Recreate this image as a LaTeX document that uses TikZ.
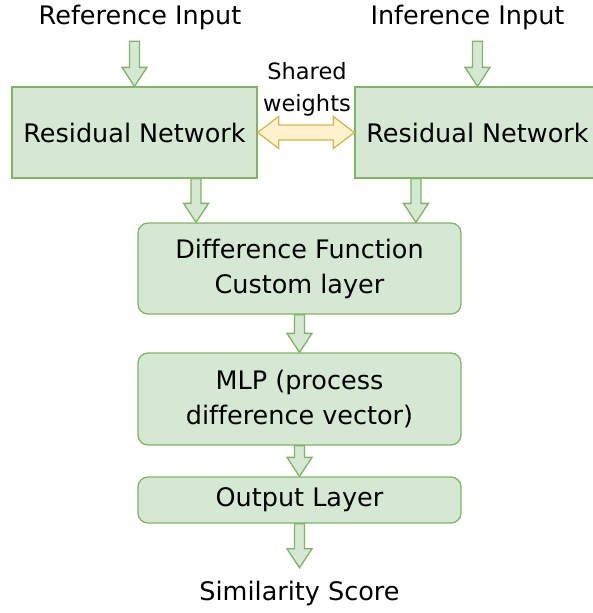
\documentclass[tikz,border=0pt]{standalone}
\usepackage{fontspec}
\setmainfont{DejaVu Sans}[Ligatures=NoCommon]
\usetikzlibrary{positioning}
\usetikzlibrary{calc}

\definecolor{netfill}{HTML}{D5E8D4}
\definecolor{netline}{HTML}{82B366}
\definecolor{wfill}{HTML}{FFF2CC}
\definecolor{wline}{HTML}{D6B656}

\tikzset{
  block/.style={draw=netline, fill=netfill, line width=1.3pt, inner sep=0pt, align=center,
    font=\fontsize{25.5}{35}\selectfont},
  layer/.style={block, rounded corners=10pt, minimum width=323pt},
  io/.style={inner sep=0pt, font=\fontsize{25.5}{35}\selectfont},
  % block arrow from start to target
  flex/.style={draw=netline, fill=netfill, line width=1.3pt,
    /utils/exec={\def\fsw{5pt}\def\fhw{12.5pt}\def\fhl{19pt}},
    to path={
      ($(\tikztostart)!\fsw!90:(\tikztotarget)$)
      -- ($(\tikztotarget)!\fhl!(\tikztostart)!\fsw!-90:(\tikztostart)$)
      -- ($(\tikztotarget)!\fhl!(\tikztostart)!\fhw!-90:(\tikztostart)$)
      -- (\tikztotarget)
      -- ($(\tikztotarget)!\fhl!(\tikztostart)!\fhw!90:(\tikztostart)$)
      -- ($(\tikztotarget)!\fhl!(\tikztostart)!\fsw!90:(\tikztostart)$)
      -- ($(\tikztostart)!\fsw!-90:(\tikztotarget)$) -- cycle}},
  % block arrow with two heads
  flexboth/.style={draw=wline, fill=wfill, line width=1.3pt,
    /utils/exec={\def\fsw{7.5pt}\def\fhw{16pt}\def\fhl{21pt}},
    to path={
      (\tikztostart)
      -- ($(\tikztostart)!\fhl!(\tikztotarget)!\fhw!90:(\tikztotarget)$)
      -- ($(\tikztostart)!\fhl!(\tikztotarget)!\fsw!90:(\tikztotarget)$)
      -- ($(\tikztotarget)!\fhl!(\tikztostart)!\fsw!-90:(\tikztostart)$)
      -- ($(\tikztotarget)!\fhl!(\tikztostart)!\fhw!-90:(\tikztostart)$)
      -- (\tikztotarget)
      -- ($(\tikztotarget)!\fhl!(\tikztostart)!\fhw!90:(\tikztostart)$)
      -- ($(\tikztotarget)!\fhl!(\tikztostart)!\fsw!90:(\tikztostart)$)
      -- ($(\tikztostart)!\fhl!(\tikztotarget)!\fsw!-90:(\tikztotarget)$)
      -- ($(\tikztostart)!\fhl!(\tikztotarget)!\fhw!-90:(\tikztotarget)$)
      -- cycle}}
}

\begin{document}
\begin{tikzpicture}[x=1pt,y=1pt]
  \useasboundingbox (0,0) rectangle (593,-613);
  \clip (0,0) rectangle (593,-613);

  % inputs
  \node[io, minimum height=48pt] (refin) at (140,-17) {Reference Input};
  \node[io, minimum height=48pt] (infin) at (467.5,-17) {Inference Input};

  % twin networks
  \node[block, minimum width=245pt, minimum height=91pt] (resL) at (134.5,-132.5) {Residual Network};
  \node[block, minimum width=245pt, minimum height=91pt] (resR) at (477.5,-132.5) {Residual Network};
  \node[align=center, inner sep=0pt, font=\fontsize{22.5}{32}\selectfont] (shared) at (307,-89) {Shared\\weights};

  % head of the model
  \node[layer, minimum height=91pt] (diff) at (299.5,-268.5) {Difference Function\\Custom layer};
  \node[layer, minimum height=92pt] (mlp) at (299.5,-399) {MLP (process\\difference vector)};
  \node[layer, minimum height=46pt] (out) at (299.5,-500) {Output Layer};
  \node[io, minimum height=50pt] (sim) at (299.5,-593) {Similarity Score};

  \coordinate (la) at ($(resL.south west)!0.75!(resL.south east)$);
  \coordinate (ra) at ($(resR.south west)!0.25!(resR.south east)$);

  % arrows
  \draw[flex] (refin.south -| resL.north) to (resL.north);
  \draw[flex] (infin.south -| resR.north) to (resR.north);
  \draw[flex] (la) to (la |- diff.north);
  \draw[flex] (ra) to (ra |- diff.north);
  \foreach \a/\b in {diff/mlp, mlp/out, out/sim}
    \draw[flex] (\a.south) to (\b.north);
  \draw[flexboth] (resL.east) to (resR.west);
\end{tikzpicture}
\end{document}
